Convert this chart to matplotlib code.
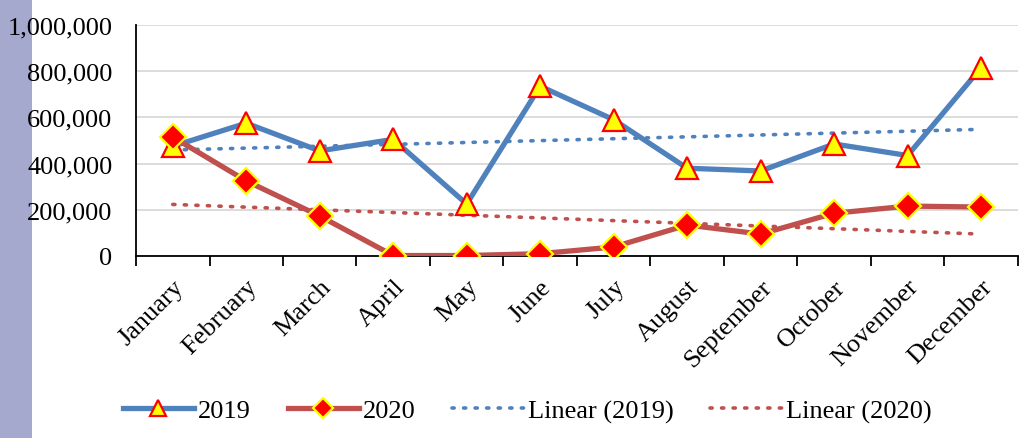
import numpy as np
import matplotlib
matplotlib.use("Agg")
import matplotlib.pyplot as plt
from matplotlib.ticker import FuncFormatter

months = ["January", "February", "March", "April", "May", "June", "July",
          "August", "September", "October", "November", "December"]
sales_2019 = [475000, 575000, 455000, 505000, 225000, 735000, 590000,
              380000, 368000, 485000, 435000, 815000]
sales_2020 = [515000, 325000, 173000, 2000, 2000, 10000, 39000,
              134000, 95000, 185000, 216000, 212000]

BLUE = "#4F81BD"
RED = "#C0504D"

plt.rcParams["font.family"] = ["Liberation Serif", "DejaVu Serif"]
plt.rcParams["font.size"] = 19

fig = plt.figure(figsize=(10.25, 4.39), dpi=100)

# side strip, kept behind the axes and its labels
fig.patches.append(plt.Rectangle((0, 0), 32 / 1025, 1, transform=fig.transFigure,
                                 facecolor="#A4A9CD", edgecolor="none", zorder=-5))

ax = fig.add_axes([0.1327, 0.4146, 0.8603, 0.5262])
ax.patch.set_alpha(0)

x = np.arange(len(months))

# linear trend lines
fit19 = np.polyval(np.polyfit(x, sales_2019, 1), x)
fit20 = np.polyval(np.polyfit(x, sales_2020, 1), x)
ax.plot(x, fit19, color=BLUE, lw=2.6, ls=(0, (0.6, 2.6)), dash_capstyle="round",
        label="Linear (2019)", zorder=2)
ax.plot(x, fit20, color=RED, lw=2.6, ls=(0, (0.6, 2.6)), dash_capstyle="round",
        label="Linear (2020)", zorder=2)

ax.plot(x, sales_2019, color=BLUE, lw=3.8, marker="^", ms=16,
        mfc="#FFFF00", mec="#FF0000", mew=1.6, label="2019", zorder=3)
ax.plot(x, sales_2020, color=RED, lw=3.8, marker="D", ms=13,
        mfc="#FF0000", mec="#FFFF00", mew=1.6, label="2020", zorder=4)

ax.set_xlim(-0.5, len(months) - 0.5)
ax.set_ylim(0, 1000000)
ax.set_yticks(np.arange(0, 1000001, 200000))
ax.yaxis.set_major_formatter(FuncFormatter(lambda v, p: f"{int(v):,}"))
ax.tick_params(axis="y", length=0, pad=17)

ax.set_xticks(x)
ax.set_xticklabels(months, rotation=45, ha="right", rotation_mode="anchor")
ax.tick_params(axis="x", length=0, pad=14)
ax.set_xticks(np.arange(-0.5, len(months)), minor=True)
ax.tick_params(axis="x", which="minor", length=7, width=1.3, direction="out")

ax.grid(axis="y", color="#D9D9D9", lw=1.3)
ax.set_axisbelow(True)
for side in ["top", "right"]:
    ax.spines[side].set_visible(False)
for side in ["left", "bottom"]:
    ax.spines[side].set_linewidth(1.3)

handles, labels = ax.get_legend_handles_labels()
order = [2, 3, 0, 1]
fig.legend([handles[i] for i in order], [labels[i] for i in order],
           loc="center", bbox_to_anchor=(0.514, 0.062), ncol=4, frameon=False,
           handlelength=2.7, handletextpad=0.15, columnspacing=1.4,
           markerscale=0.75, fontsize=19)

fig.savefig("out.png", dpi=100)
